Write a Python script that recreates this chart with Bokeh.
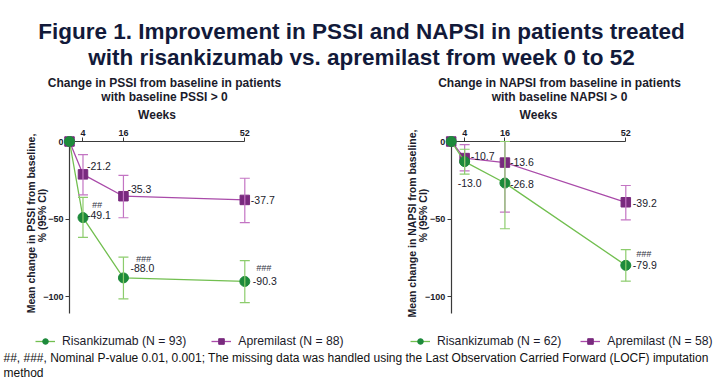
import math
from bokeh.plotting import figure
from bokeh.models import (Range1d, LinearAxis, FixedTicker, ColumnDataSource,
                          Whisker, TeeHead, Legend, LegendItem)
from bokeh.core.properties import value
from bokeh.embed import file_html
from bokeh.resources import INLINE

# ---------------- data ----------------
weeks = [0, 4, 16, 52]
ci_weeks = [4, 16, 52]

pssi_risa = [0.0, -49.1, -88.0, -90.3]
pssi_apre = [0.0, -21.2, -35.3, -37.7]
pssi_risa_lo = [-61.9, -101.5, -104.0]
pssi_risa_hi = [-36.1, -74.6, -76.8]
pssi_apre_lo = [-34.4, -49.2, -52.3]
pssi_apre_hi = [-8.5, -21.9, -23.7]
pssi_risa_sig = ["##", "###", "###"]

napsi_risa = [0.0, -13.0, -26.8, -79.9]
napsi_apre = [0.0, -10.7, -13.6, -39.2]
napsi_risa_lo = [-21.0, -56.3, -90.1]
napsi_risa_hi = [-5.0, 0.0, -69.7]
napsi_apre_lo = [-19.0, -45.5, -50.5]
napsi_apre_hi = [-2.0, 0.0, -28.4]
napsi_risa_sig = ["", "", "###"]

y_ticks = [0, -50, -100]
week_ticks = [4, 16, 52]

pssi_labels = ["Risankizumab (N = 93)", "Apremilast (N = 88)"]
napsi_labels = ["Risankizumab (N = 62)", "Apremilast (N = 58)"]

title_lines = ["Figure 1. Improvement in PSSI and NAPSI in patients treated",
               "with risankizumab vs. apremilast from week 0 to 52"]
footnote_lines = ["##, ###, Nominal P-value 0.01, 0.001; The missing data was handled using the Last Observation Carried Forward (LOCF) imputation",
                  "method"]

# ---------------- styles ----------------
FONT = "Liberation Sans"
DARK = "#1b1b2b"
TITLE_C = "#121a3a"
G_MARK, G_LINE, G_ERR = "#1d8a3b", "#72bf50", "#8ccc6c"
P_MARK, P_LINE, P_ERR = "#792a7e", "#a94aa9", "#c374c3"
AXIS_C = "#3a3a3a"

W, H = 719, 382
Y0, SY = 141.0, 1.55        # page y of value 0, px per unit

p = figure(width=W, height=H, output_backend="svg", toolbar_location=None,
           x_range=Range1d(0, W), y_range=Range1d(H, 0),
           x_axis_type=None, y_axis_type=None, min_border=0,
           outline_line_color=None, background_fill_color="white")
p.extra_y_ranges["v"] = Range1d((Y0 - H) / SY, Y0 / SY)


def page_text(x, y, txt, size, bold=False, align="center", baseline="middle",
              color=DARK, font=FONT, angle=0.0):
    p.text(x=[x], y=[y], text=[txt], text_font=value(font),
           text_font_size=size, text_font_style="bold" if bold else "normal",
           text_align=align, text_baseline=baseline, text_color=color,
           angle=angle)


def panel(key, x0_px, x52_px, risa, apre, r_lo, r_hi, a_lo, a_hi, r_sig,
          r_off, a_off, sig_off, sub1, sub2, cx, ylab1, labels, leg_x, leg_sp):
    sx = (x52_px - x0_px) / 52.0
    p.extra_x_ranges[key] = Range1d(-x0_px / sx, (W - x0_px) / sx)
    kw = dict(x_range_name=key, y_range_name="v")

    # axes
    yax = LinearAxis(fixed_location=0, bounds=(-111, 0),
                     ticker=FixedTicker(ticks=y_ticks), **kw)
    xax = LinearAxis(fixed_location=0, bounds=(0, 52),
                     ticker=FixedTicker(ticks=week_ticks), axis_label="Weeks", **kw)
    for ax in (yax, xax):
        ax.axis_line_color = AXIS_C
        ax.axis_line_width = 1.2
        ax.major_tick_line_color = AXIS_C
        ax.major_tick_out = 4
        ax.major_tick_in = 0
        ax.minor_tick_line_color = None
        ax.major_label_text_font = FONT
        ax.major_label_text_font_style = "bold"
        ax.major_label_text_font_size = "9px"
        ax.major_label_text_color = DARK
        ax.major_label_standoff = 2
        ax.level = "underlay"
    xax.axis_label_text_font = FONT
    xax.axis_label_text_font_style = "bold"
    xax.axis_label_text_font_size = "12px"
    xax.axis_label_text_color = DARK
    xax.axis_label_standoff = 5
    p.add_layout(yax, "left")
    p.add_layout(xax, "above")

    # error bars
    for lo, hi, col in ((a_lo, a_hi, P_ERR), (r_lo, r_hi, G_ERR)):
        src = ColumnDataSource(dict(x=ci_weeks, lo=lo, hi=hi))
        wk = Whisker(source=src, base="x", lower="lo", upper="hi",
                     dimension="height", line_color=col, line_width=1.2,
                     upper_head=TeeHead(size=10, line_color=col, line_width=1.2),
                     lower_head=TeeHead(size=10, line_color=col, line_width=1.2),
                     level="glyph", **kw)
        p.add_layout(wk)

    # series
    la = p.line(weeks, apre, line_color=P_LINE, line_width=1.3, **kw)
    sa = p.scatter(weeks, apre, marker="square", size=9.5, fill_color=P_MARK,
                   line_color=P_MARK, **kw)
    lr = p.line(weeks, risa, line_color=G_LINE, line_width=1.3, **kw)
    sr = p.scatter(weeks, risa, marker="circle", size=10, fill_color=G_MARK,
                   line_color=G_MARK, **kw)

    # value labels
    for ser, off in ((apre, a_off), (risa, r_off)):
        src = ColumnDataSource(dict(x=weeks[1:], y=ser[1:],
                                    t=["%.1f" % v for v in ser[1:]],
                                    dx=[o[0] for o in off], dy=[o[1] for o in off]))
        p.text(x="x", y="y", text="t", x_offset="dx", y_offset="dy", source=src,
               text_font=value(FONT), text_font_size="10.5px",
               text_baseline="middle", text_align="left", text_color=DARK, **kw)
    src = ColumnDataSource(dict(x=weeks[1:], y=risa[1:], t=r_sig,
                                dx=[o[0] for o in sig_off], dy=[o[1] for o in sig_off]))
    p.text(x="x", y="y", text="t", x_offset="dx", y_offset="dy", source=src,
           text_font=value(FONT), text_font_size="9px", text_font_style="italic",
           text_baseline="middle", text_align="center", text_color="#333344", **kw)

    # subtitles and y label
    page_text(cx, 82, sub1, "12px", bold=True)
    page_text(cx, 96, sub2, "12px", bold=True)
    page_text(x0_px - 39, 223, ylab1, "10.5px", bold=True, angle=math.pi / 2)
    page_text(x0_px - 28, 215, "% (95% CI)", "10.5px", bold=True, angle=math.pi / 2)

    # legend
    leg = Legend(items=[LegendItem(label=labels[0], renderers=[lr, sr]),
                        LegendItem(label=labels[1], renderers=[la, sa])],
                 location=(leg_x, 34), orientation="horizontal",
                 glyph_width=20, glyph_height=14, label_standoff=7,
                 spacing=leg_sp, padding=0, margin=0,
                 border_line_color=None, background_fill_alpha=0,
                 label_text_font=FONT, label_text_font_size="12.2px",
                 label_text_color=DARK)
    p.add_layout(leg)


panel("L", 69.0, 244.3, pssi_risa, pssi_apre, pssi_risa_lo, pssi_risa_hi,
      pssi_apre_lo, pssi_apre_hi, pssi_risa_sig,
      r_off=[(4, -3), (7, -10), (8, 0)], a_off=[(4, -8), (4, -7), (6, 0)],
      sig_off=[(14, -13), (20, -19), (19, -13)],
      sub1="Change in PSSI from baseline in patients",
      sub2="with baseline PSSI > 0", cx=164,
      ylab1="Mean change in PSSI from baseline,", labels=pssi_labels,
      leg_x=35, leg_sp=25)

panel("R", 450.7, 625.3, napsi_risa, napsi_apre, napsi_risa_lo, napsi_risa_hi,
      napsi_apre_lo, napsi_apre_hi, napsi_risa_sig,
      r_off=[(-7, 21), (5, 1), (7, 0)], a_off=[(6, -2), (5, -1), (7, 1)],
      sig_off=[(0, 0), (0, 0), (18, -11)],
      sub1="Change in NAPSI from baseline in patients",
      sub2="with baseline NAPSI > 0", cx=559,
      ylab1="Mean change in NAPSI from baseline,", labels=napsi_labels,
      leg_x=410, leg_sp=19)

# title and footnote
page_text(361, 31, title_lines[0], "22.5px", bold=True, baseline="alphabetic",
          color=TITLE_C)
page_text(361, 57, title_lines[1], "22.5px", bold=True, baseline="alphabetic",
          color=TITLE_C)
page_text(3, 357, footnote_lines[0], "12px", align="left", color="#111111")
page_text(3, 372, footnote_lines[1], "12px", align="left", color="#111111")

open("out.html", "w").write(file_html(p, INLINE))
